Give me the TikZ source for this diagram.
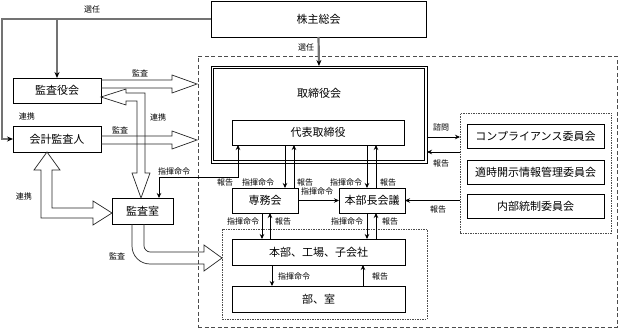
\documentclass[tikz,border=0pt]{standalone}
\usepackage{fontspec}
\setmainfont{Noto Sans CJK JP}
\usetikzlibrary{arrows.meta}
\begin{document}
\begin{tikzpicture}[x=1pt,y=-1pt,
  box/.style={draw=black, line width=0.7pt, inner sep=0pt, outer sep=0pt, font=\fontsize{11}{12}\selectfont},
  lbl/.style={font=\fontsize{8}{9}\selectfont, inner sep=0pt},
  arr/.style={line width=0.7pt, -{Stealth[length=5pt,width=4.5pt]}},
  darr/.style={line width=0.7pt, {Stealth[length=5pt,width=4.5pt]}-{Stealth[length=5pt,width=4.5pt]}},
  senin/.style={draw=black!55, line width=2.2pt, -{Stealth[length=6pt,width=5pt,black]}},
  hollow/.style={draw=black!85, line width=0.7pt, line join=miter},
  dashbox/.style={draw=black!70, line width=0.7pt, dash pattern=on 4pt off 2.5pt, inner sep=0pt, outer sep=0pt},
  dotbox/.style={draw=black!70, line width=0.7pt, dash pattern=on 1.5pt off 1pt, inner sep=0pt, outer sep=0pt},
]
\useasboundingbox (0,0) rectangle (619,329);

% containers
\node[dashbox, minimum width=419pt, minimum height=271pt] (big) at (407.5,191.5) {};
\node[dotbox, minimum width=151pt, minimum height=120pt] (cmt) at (535.5,173) {};
\node[dotbox, minimum width=205pt, minimum height=90pt] (grp) at (324.5,274) {};

% boxes
\node[box, minimum width=215pt, minimum height=36pt] (kabu) at (318.5,19) {株主総会};
\node[box, minimum width=88pt, minimum height=25pt] (kansayaku) at (57,90.5) {監査役会};
\node[box, minimum width=88pt, minimum height=26pt] (kaikei) at (57,139) {会計監査人};
\node[box, minimum width=61pt, minimum height=26pt] (kshitsu) at (142.5,211) {監査室};
\node[box, minimum width=216pt, minimum height=97pt] (tori) at (319,114.5) {};
\node[box, minimum width=211pt, minimum height=92pt] (toriin) at (319,114.5) {};
\node[font=\fontsize{11}{12}\selectfont, inner sep=0pt] (toritxt) at (319,93) {取締役会};
\node[box, minimum width=172pt, minimum height=25pt] (daihyo) at (318,132.5) {代表取締役};
\node[box, minimum width=66pt, minimum height=25pt] (senmu) at (265,200.5) {専務会};
\node[box, minimum width=66pt, minimum height=25pt] (honbucho) at (372,200.5) {本部長会議};
\node[box, minimum width=173pt, minimum height=26pt] (honbu) at (318.5,252) {本部、工場、子会社};
\node[box, minimum width=173pt, minimum height=26pt] (bushitsu) at (318.5,299) {部、室};
\node[box, minimum width=137pt, minimum height=24pt] (c1) at (535.5,136) {コンプライアンス委員会};
\node[box, minimum width=137pt, minimum height=24pt] (c2) at (535.5,172) {適時開示情報管理委員会};
\node[box, minimum width=137pt, minimum height=24pt] (c3) at (535.5,206) {内部統制委員会};

% helper coordinates
\coordinate (tl) at (2,19);
\coordinate (xk) at (238,0);
\coordinate (xa) at (285,0);
\coordinate (xb) at (294,0);
\coordinate (xc) at (367,0);
\coordinate (xd) at (376,0);
\coordinate (xe) at (262,0);
\coordinate (xf) at (270,0);
\coordinate (xi) at (272,0);
\coordinate (xj) at (363,0);
\coordinate (yb) at (0,137);
\coordinate (yc) at (0,152);

% 選任
\draw[senin] (kabu.west) -- (tl) |- (kaikei.west);
\draw[senin] (kansayaku.north |- tl) -- (kansayaku.north);
\draw[senin] (kabu.south) -- (tori.north);

% hollow arrows
\draw[hollow] (101,80) -- (172,80) -- (172,75) -- (197,84) -- (172,93) -- (172,88) -- (101,88);
\draw[hollow] (101,136) -- (172,136) -- (172,131) -- (197,140) -- (172,149) -- (172,144) -- (101,144);
\draw[hollow] (101,97) -- (126,89) -- (126,93) -- (145,93) -- (145,173) -- (150,173) -- (141,198)
   -- (132,173) -- (137,173) -- (137,101) -- (126,101) -- (126,105) -- cycle;
\draw[hollow] (47,152) -- (60,170) -- (52,170) -- (52,208) -- (93,208) -- (93,201) -- (112,213)
   -- (93,225) -- (93,218) -- (41,218) -- (41,170) -- (34,170) -- cycle;
\draw[hollow] (132,224) -- (132,246) .. controls (132,256) and (140,264) .. (150,264) -- (204,264)
   -- (204,271) -- (222,258) -- (204,245) -- (204,252) -- (150,252)
   .. controls (147,252) and (144,249) .. (144,246) -- (144,224);

% thin arrows
\draw[darr] (daihyo.south -| xk) -- ++(0,32) -| ([xshift=-14pt]kshitsu.north east);
\draw[arr] (daihyo.south -| xa) -- (senmu.north -| xa);
\draw[arr] (senmu.north -| xb) -- (daihyo.south -| xb);
\draw[arr] (daihyo.south -| xc) -- (honbucho.north -| xc);
\draw[arr] (honbucho.north -| xd) -- (daihyo.south -| xd);
\draw[arr] (senmu.east) -- (honbucho.west);
\draw[arr] (senmu.south -| xe) -- (honbu.north -| xe);
\draw[arr] (honbu.north -| xf) -- (senmu.south -| xf);
\draw[arr] (honbucho.south -| xc) -- (honbu.north -| xc);
\draw[arr] (honbu.north -| xd) -- (honbucho.south -| xd);
\draw[arr] (honbu.south -| xi) -- (bushitsu.north -| xi);
\draw[arr] (bushitsu.north -| xj) -- (honbu.south -| xj);
\draw[arr] (tori.east |- yb) -- (cmt.west |- yb);
\draw[arr] (cmt.west |- yc) -- (tori.east |- yc);
\draw[arr] (cmt.west |- honbucho.east) -- (honbucho.east);

% labels
\node[lbl] (l1) at (92,9) {選任};
\node[lbl] (l2) at (306,47) {選任};
\node[lbl] (l3) at (140,73) {監査};
\node[lbl] (l4) at (120,130) {監査};
\node[lbl] (l5) at (158,117) {連携};
\node[lbl] (l6) at (27,116) {連携};
\node[lbl] (l7) at (24,196) {連携};
\node[lbl] (l8) at (117,256) {監査};
\node[lbl] (l9) at (174,171) {指揮命令};
\node[lbl] (l10) at (225,182) {報告};
\node[lbl] (l11) at (258,182) {指揮命令};
\node[lbl] (l12) at (305,182) {報告};
\node[lbl] (l13) at (346,182) {指揮命令};
\node[lbl] (l14) at (388,182) {報告};
\node[lbl] (l15) at (317,191) {指揮命令};
\node[lbl] (l16) at (441,127) {諮問};
\node[lbl] (l17) at (441,163) {報告};
\node[lbl] (l18) at (438,209) {報告};
\node[lbl] (l19) at (243,221) {指揮命令};
\node[lbl] (l20) at (283,221) {報告};
\node[lbl] (l21) at (347,221) {指揮命令};
\node[lbl] (l22) at (390,221) {報告};
\node[lbl] (l23) at (294,276) {指揮命令};
\node[lbl] (l24) at (380,276) {報告};
\end{tikzpicture}
\end{document}
